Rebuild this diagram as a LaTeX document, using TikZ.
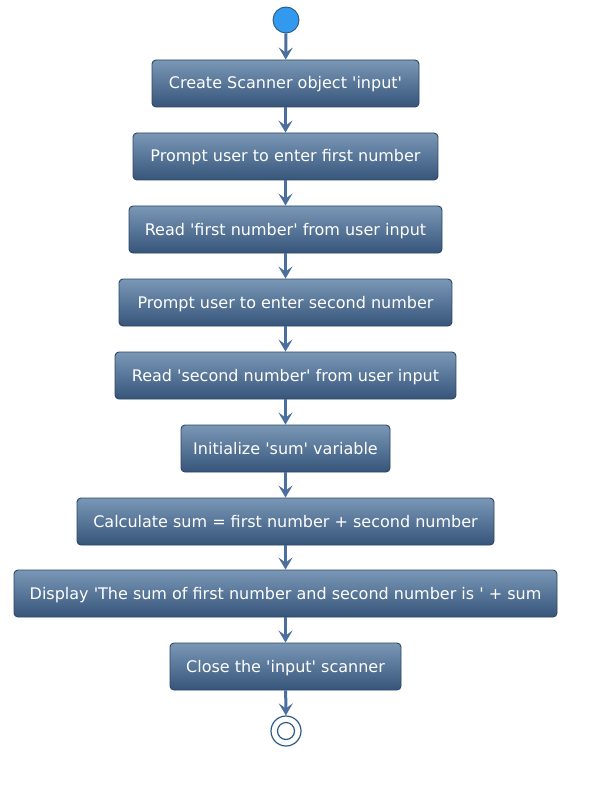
\documentclass[tikz,border=0pt]{standalone}
\usepackage{fontspec}
\setmainfont{DejaVu Sans}[Ligatures=TeXOff]
\usetikzlibrary{arrows.meta}
\definecolor{boxtop}{HTML}{7A97B6}
\definecolor{boxbot}{HTML}{36557A}
\definecolor{boxline}{HTML}{2C4566}
\definecolor{arrowc}{HTML}{4A6F9E}
\definecolor{startfill}{HTML}{3399EE}
\definecolor{startline}{HTML}{2A5A85}
\begin{document}
\begin{tikzpicture}[x=1pt,y=-1pt,
  act/.style={draw=boxline, line width=0.9pt, rounded corners=4pt, top color=boxtop, bottom color=boxbot,
    text=white, font=\fontsize{16}{19}\selectfont, minimum height=47pt, inner xsep=0pt,
    text height=12pt, text depth=1pt},
  flow/.style={draw=arrowc, line width=3pt, -{Stealth[length=12pt,width=14pt,inset=5pt]}}]
\useasboundingbox (0,0) rectangle (607,810);
\node[circle, fill=startfill, draw=startline, line width=0.9pt, minimum size=26pt, inner sep=0pt] (s) at (286,20) {};
\node[act, minimum width=267pt] (a1) at (285.5,83.5) {Create Scanner object 'input'};
\node[act, minimum width=305pt] (a2) at (285.5,156.5) {Prompt user to enter first number};
\node[act, minimum width=313pt] (a3) at (285.5,229.5) {Read 'first number' from user input};
\node[act, minimum width=333pt] (a4) at (285.5,302.5) {Prompt user to enter second number};
\node[act, minimum width=341pt] (a5) at (285.5,375.5) {Read 'second number' from user input};
\node[act, minimum width=209pt] (a6) at (285.5,448.5) {Initialize 'sum' variable};
\node[act, minimum width=417pt] (a7) at (285.5,521.5) {Calculate sum = first number + second number};
\node[act, minimum width=543pt] (a8) at (285.5,593.5) {Display 'The sum of first number and second number is ' + sum};
\node[act, minimum width=231pt] (a9) at (285.5,666.5) {Close the 'input' scanner};
\node[circle, draw=startline, line width=1.2pt, minimum size=30pt, inner sep=0pt] (e) at (286,731) {};
\node[circle, draw=startline, line width=1.2pt, minimum size=17pt, inner sep=0pt] at (286,731) {};
\draw[flow] (s) -- (a1);
\draw[flow] (a1) -- (a2);
\draw[flow] (a2) -- (a3);
\draw[flow] (a3) -- (a4);
\draw[flow] (a4) -- (a5);
\draw[flow] (a5) -- (a6);
\draw[flow] (a6) -- (a7);
\draw[flow] (a7) -- (a8);
\draw[flow] (a8) -- (a9);
\draw[flow] (a9) -- (e);
\end{tikzpicture}
\end{document}
